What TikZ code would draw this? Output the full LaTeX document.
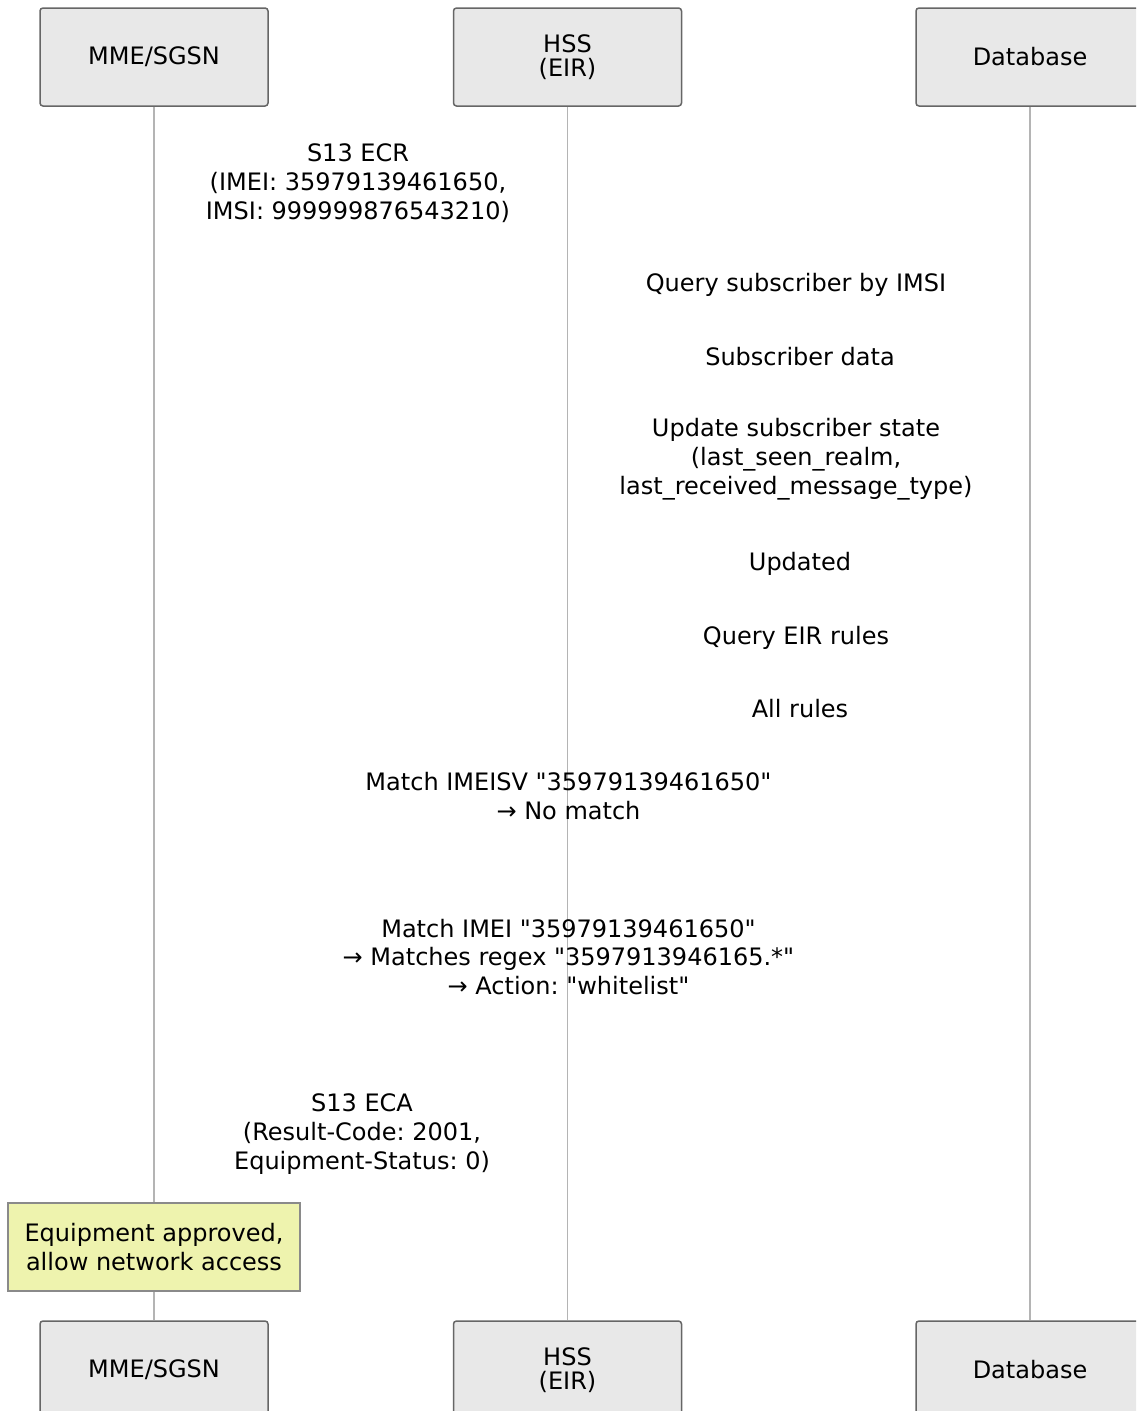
\documentclass[tikz,border=0pt]{standalone}
\usepackage{fontspec}
\setmainfont{DejaVu Sans}[Ligatures=TeXOff]
\frenchspacing
\definecolor{boxfill}{HTML}{E8E8E8}
\definecolor{boxline}{HTML}{666666}
\definecolor{lifeline}{HTML}{B4B4B4}
\definecolor{notefill}{HTML}{EEF3AE}
\definecolor{noteline}{HTML}{8A8A8A}
\begin{document}
\begin{tikzpicture}[x=1pt,y=-1pt,
  actorbox/.style={draw=boxline, line width=1.5pt, fill=boxfill, rounded corners=3pt,
    minimum width=228pt, minimum height=98pt, inner sep=0pt, align=center,
    font=\fontsize{24}{24}\selectfont},
  msg/.style={inner sep=0pt, align=center, font=\fontsize{24}{28.8}\selectfont},
  notebox/.style={draw=noteline, line width=1.2pt, fill=notefill,
    minimum width=292pt, minimum height=88pt, inner sep=0pt, align=center,
    font=\fontsize{24}{28.8}\selectfont},
  life/.style={draw=lifeline, line width=1.3pt}]
\clip (0,0) rectangle (1136,1411);
\fill[white] (0,0) rectangle (1136,1411);
% actors
\node[actorbox] (mtop) at (154,57) {MME/SGSN};
\node[actorbox] (htop) at (567.5,57) {HSS\\(EIR)};
\node[actorbox] (dtop) at (1030,57) {Database};
\node[actorbox] (mbot) at (154,1370) {MME/SGSN};
\node[actorbox] (hbot) at (567.5,1370) {HSS\\(EIR)};
\node[actorbox] (dbot) at (1030,1370) {Database};
% lifelines
\draw[life] (mtop.south) -- (mbot.north);
\draw[life] (htop.south) -- (hbot.north);
\draw[life] (dtop.south) -- (dbot.north);
% message labels
\node[msg] (m1) at (358,183) {S13 ECR\\(IMEI: 35979139461650,\\IMSI: 999999876543210)};
\node[msg] (m2) at (796,285) {Query subscriber by IMSI};
\node[msg] (m3) at (800,357) {Subscriber data};
\node[msg] (m4) at (796,459) {Update subscriber state\\(last\_seen\_realm,\\last\_received\_message\_type)};
\node[msg] (m5) at (800,564) {Updated};
\node[msg] (m6) at (796,638) {Query EIR rules};
\node[msg] (m7) at (800,709) {All rules};
\node[msg] (m8) at (568.5,796) {Match IMEISV "35979139461650"\\→ No match};
\node[msg] (m9) at (568.5,957) {Match IMEI "35979139461650"\\→ Matches regex "3597913946165.*"\\→ Action: "whitelist"};
\node[msg] (m10) at (362,1134) {S13 ECA\\(Result-Code: 2001,\\Equipment-Status: 0)};
% note
\node[notebox] (note) at (154,1247) {Equipment approved,\\allow network access};
\end{tikzpicture}
\end{document}
